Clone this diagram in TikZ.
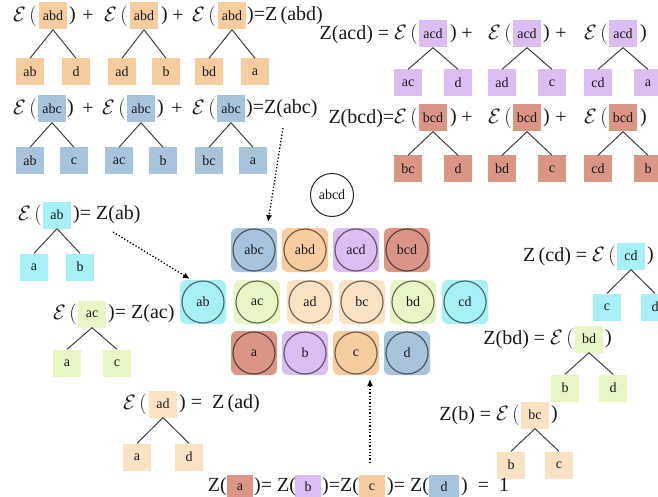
\documentclass[tikz,border=0pt]{standalone}
\usepackage{fontspec}
\setmainfont{Liberation Serif}
\usetikzlibrary{arrows.meta}

\definecolor{cOr}{HTML}{F7CDA0}
\definecolor{cBl}{HTML}{A8C3DC}
\definecolor{cPu}{HTML}{D9BDF3}
\definecolor{cRe}{HTML}{DB9585}
\definecolor{cCy}{HTML}{A6F0F6}
\definecolor{cGr}{HTML}{E8F5C4}
\definecolor{cPe}{HTML}{FBE2C2}

\tikzset{
  lbl/.style={font=\fontsize{14}{14}\selectfont, text=black!90},
  tbox/.style={rectangle, fill=#1, minimum width=28pt, minimum height=27pt, inner sep=0pt, lbl},
  sbox/.style={rectangle, fill=#1, minimum width=26pt, minimum height=24pt, inner sep=0pt, lbl},
  eqtxt/.style={font=\fontsize{20}{20}\selectfont, inner sep=0pt, text=black!90},
  tline/.style={draw=black!75, line width=1pt},
  sq/.style={rectangle, rounded corners=6pt, fill=#1, minimum width=46pt, minimum height=44pt, inner sep=0pt},
  ring/.style={circle, draw=#1!45!black, fill=#1, line width=1.2pt, minimum size=42pt, inner sep=0pt, lbl},
  dotarr/.style={dotted, line width=1.3pt, -{Latex[length=7pt,width=6pt]}},
}

% E-functional opening bracket
\newcommand{\calEp}{$\mathcal{E}\,($}

% binary split tree: name, x, y, child dx, child dy, colour, parent, left, right
\newcommand{\ftree}[9]{%
  \node[tbox=#6] (#1p) at (#2,#3) {#7};
  \node[tbox=#6] (#1l) at (#2-#4,#3+#5) {#8};
  \node[tbox=#6] (#1r) at (#2+#4,#3+#5) {#9};
  \draw[tline] (#1p.south) -- (#1l.north);
  \draw[tline] (#1p.south) -- (#1r.north);
}

% lattice element: name, position, colour, label
\newcommand{\lnode}[4]{%
  \node[sq=#3] (q#1) at #2 {};
  \node[ring=#3] (n#1) at #2 {#4};
}

\begin{document}
\begin{tikzpicture}[x=1pt, y=-1pt]
\useasboundingbox (0,0) rectangle (658,497);
\fill[white] (0,0) rectangle (658,497);
\clip (0,0) rectangle (658,497);

% ---- Z(abd)
\ftree{ta}{53}{16}{23}{56}{cOr}{abd}{ab}{d}
\ftree{tb}{144}{16}{22}{56}{cOr}{abd}{ad}{b}
\ftree{tc}{232}{16}{23}{56}{cOr}{abd}{bd}{a}
\node[eqtxt, anchor=east] (ea1) at (37,16) {\calEp};
\node[eqtxt, anchor=west] (ea2) at (69,16) {)};
\node[eqtxt] (ea3) at (88,16) {+};
\node[eqtxt, anchor=east] (ea4) at (128,16) {\calEp};
\node[eqtxt, anchor=west] (ea5) at (161,16) {)};
\node[eqtxt] (ea6) at (178,16) {+};
\node[eqtxt, anchor=east] (ea7) at (216,16) {\calEp};
\node[eqtxt, anchor=west] (ea8) at (247,16) {)=Z\,(abd)};

% ---- Z(abc)
\ftree{ua}{52}{109}{22}{52}{cBl}{abc}{ab}{c}
\ftree{ub}{141}{109}{22}{52}{cBl}{abc}{ac}{b}
\ftree{uc}{231}{109}{22}{52}{cBl}{abc}{bc}{a}
\node[eqtxt, anchor=east] (eb1) at (37,109) {\calEp};
\node[eqtxt, anchor=west] (eb2) at (67,109) {)};
\node[eqtxt] (eb3) at (88,109) {+};
\node[eqtxt, anchor=east] (eb4) at (126,109) {\calEp};
\node[eqtxt, anchor=west] (eb5) at (157,109) {)};
\node[eqtxt] (eb6) at (177,109) {+};
\node[eqtxt, anchor=east] (eb7) at (216,109) {\calEp};
\node[eqtxt, anchor=west] (eb8) at (246,109) {)=Z(abc)};

% ---- Z(acd)
\ftree{va}{433}{34}{25}{49}{cPu}{acd}{ac}{d}
\ftree{vb}{527}{34}{25}{49}{cPu}{acd}{ad}{c}
\ftree{vc}{623}{34}{25}{49}{cPu}{acd}{cd}{a}
\node[eqtxt, anchor=east] (ec1) at (418,34) {Z(acd) = \calEp};
\node[eqtxt, anchor=west] (ec2) at (450,34) {)};
\node[eqtxt] (ec3) at (467,34) {+};
\node[eqtxt, anchor=east] (ec4) at (512,34) {\calEp};
\node[eqtxt, anchor=west] (ec5) at (543,34) {)};
\node[eqtxt] (ec6) at (561,34) {+};
\node[eqtxt, anchor=east] (ec7) at (608,34) {\calEp};
\node[eqtxt, anchor=west] (ec8) at (640,34) {)};

% ---- Z(bcd)
\ftree{wa}{433}{118}{25}{51}{cRe}{bcd}{bc}{d}
\ftree{wb}{527}{118}{25}{51}{cRe}{bcd}{bd}{c}
\ftree{wc}{623}{118}{25}{51}{cRe}{bcd}{cd}{b}
\node[eqtxt, anchor=east] (ed1) at (418,118) {Z(bcd)=\calEp};
\node[eqtxt, anchor=west] (ed2) at (450,118) {)};
\node[eqtxt] (ed3) at (467,118) {+};
\node[eqtxt, anchor=east] (ed4) at (512,118) {\calEp};
\node[eqtxt, anchor=west] (ed5) at (543,118) {)};
\node[eqtxt] (ed6) at (561,118) {+};
\node[eqtxt, anchor=east] (ed7) at (608,118) {\calEp};
\node[eqtxt, anchor=west] (ed8) at (640,118) {)};

% ---- pairs
\ftree{xa}{57}{215}{23}{52}{cCy}{ab}{a}{b}
\node[eqtxt, anchor=east] (ee1) at (42,215) {\calEp};
\node[eqtxt, anchor=west] (ee2) at (73,215) {)= Z(ab)};

\ftree{xb}{92}{314}{25}{49}{cGr}{ac}{a}{c}
\node[eqtxt, anchor=east] (ef1) at (77,314) {\calEp};
\node[eqtxt, anchor=west] (ef2) at (108,314) {)= Z(ac)};

\ftree{xc}{163}{404}{26}{53}{cPe}{ad}{a}{d}
\node[eqtxt, anchor=east] (eg1) at (147,404) {\calEp};
\node[eqtxt, anchor=west] (eg2) at (179,404) {) = \ Z\,(ad)};

\ftree{ya}{631}{256}{24}{51}{cCy}{cd}{c}{d}
\node[eqtxt, anchor=east] (eh1) at (616,256) {Z\,(cd) = \calEp};
\node[eqtxt, anchor=west] (eh2) at (647,256) {)};

\ftree{yb}{589}{339}{24}{49}{cGr}{bd}{b}{d}
\node[eqtxt, anchor=east] (ei1) at (574,339) {Z(bd) = \calEp};
\node[eqtxt, anchor=west] (ei2) at (605,339) {)};

\ftree{yc}{535}{415}{24}{50}{cPe}{bc}{b}{c}
\node[eqtxt, anchor=east] (ej1) at (520,415) {Z(b) = \calEp};
\node[eqtxt, anchor=west] (ej2) at (551,415) {)};

% ---- singletons
\node[sbox=cRe] (sa) at (240,487) {a};
\node[sbox=cPu] (sb) at (308,487) {b};
\node[sbox=cOr] (sc) at (372,487) {c};
\node[sbox=cBl, minimum width=30pt] (sd) at (444,487) {d};
\node[eqtxt, anchor=east] (ek1) at (227,487) {Z(};
\node[eqtxt, anchor=west] (ek2) at (254,487) {)= Z(};
\node[eqtxt, anchor=west] (ek3) at (322,487) {)=Z(};
\node[eqtxt, anchor=west] (ek4) at (387,487) {)= Z(};
\node[eqtxt, anchor=west] (ek5) at (461,487) {) \ = \ 1};

% ---- lattice
\node[circle, draw=black!85, fill=white, line width=1pt, minimum size=43pt, inner sep=0pt, lbl] (nabcd) at (332,195) {abcd};

\lnode{abc}{(254,250)}{cBl}{abc}
\lnode{abd}{(305,250)}{cOr}{abd}
\lnode{acd}{(356,250)}{cPu}{acd}
\lnode{bcd}{(407,250)}{cRe}{bcd}

\lnode{ab}{(203,302)}{cCy}{ab}
\lnode{ac}{(257,302)}{cGr}{ac}
\lnode{ad}{(310,302)}{cPe}{ad}
\lnode{bc}{(362,302)}{cPe}{bc}
\lnode{bd}{(413,302)}{cGr}{bd}
\lnode{cd}{(465,302)}{cCy}{cd}

\lnode{a}{(254,353)}{cRe}{a}
\lnode{b}{(305,353)}{cPu}{b}
\lnode{c}{(356,353)}{cOr}{c}
\lnode{d}{(407,353)}{cBl}{d}

% ---- pointers
\coordinate (p1s) at (283,128);
\coordinate (p1e) at (268,222);
\coordinate (p2s) at (113,232);
\coordinate (p2e) at (190,279);
\coordinate (p3s) at (370,463);
\coordinate (p3e) at (370,379);
\draw[dotarr] (p1s) -- (p1e);
\draw[dotarr] (p2s) -- (p2e);
\draw[dotarr] (p3s) -- (p3e);
\end{tikzpicture}
\end{document}
